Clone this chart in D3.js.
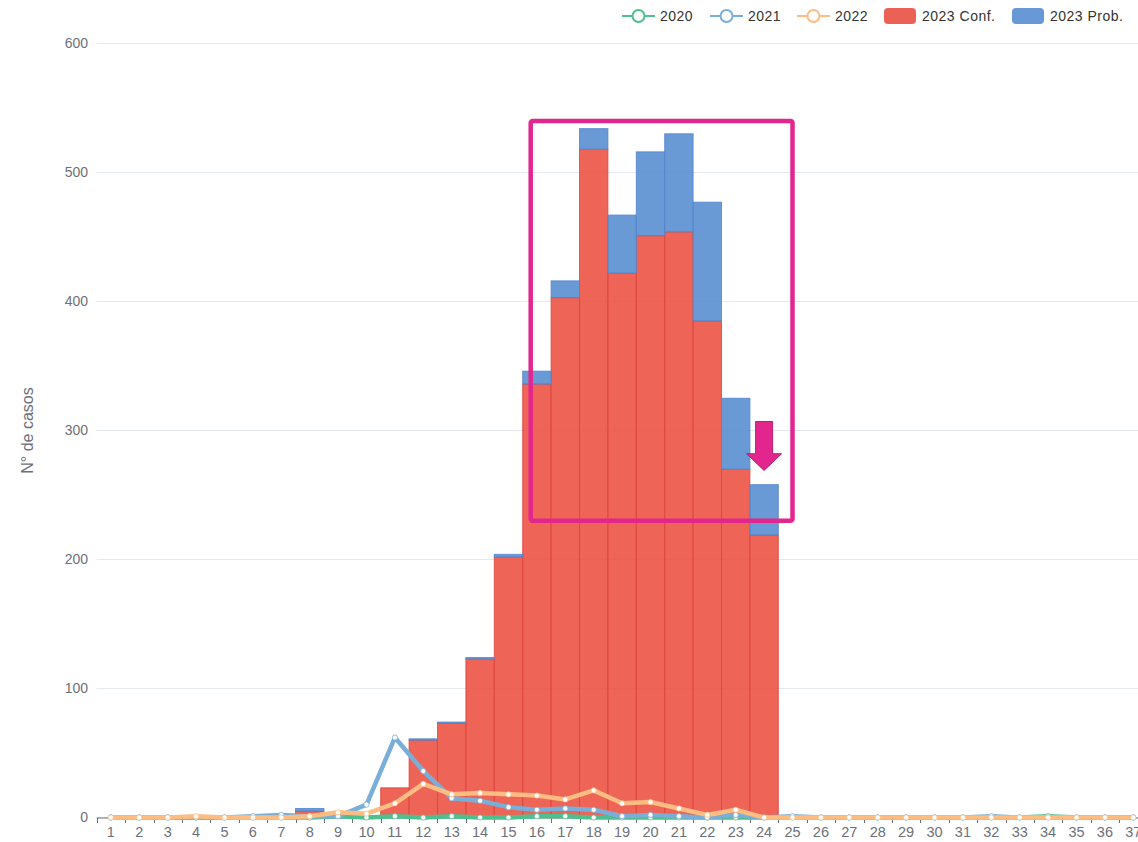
<!DOCTYPE html>
<html>
<head>
<meta charset="utf-8">
<script src="https://cdn.jsdelivr.net/npm/d3@7"></script>
<style>
  body { margin: 0; background: #fff; overflow: hidden; }
  text { font-family: "Liberation Sans", Arial, sans-serif; }
</style>
</head>
<body>
<svg id="chart"></svg>
<script>
var weeks = [1, 2, 3, 4, 5, 6, 7, 8, 9, 10, 11, 12, 13, 14, 15, 16, 17, 18, 19,
  20, 21, 22, 23, 24, 25, 26, 27, 28, 29, 30, 31, 32, 33, 34, 35, 36, 37];

// 2023 stacked bars (weeks 1-24)
var conf2023 = [0, 0, 0, 0, 0, 0, 0, 5, 0, 0, 23, 60, 73, 123, 202, 336, 403, 518, 422,
  451, 454, 385, 270, 219];
var prob2023 = [0, 0, 0, 0, 0, 0, 0, 2, 0, 0, 0, 1, 1, 1, 2, 10, 13, 16, 45,
  65, 76, 92, 55, 39];

// previous years, lines
var cases2020 = [0, 0, 0, 0, 0, 0, 0, 0, 1, 0, 1, 0, 1, 0, 0, 1, 1, 0, 0,
  0, 0, 0, 0, 0, 0, 0, 0, 0, 0, 0, 0, 0, 0, 1, 0, 0, 0];
var cases2021 = [0, 0, 0, 0, 0, 1, 2, 1, 1, 10, 62, 36, 15, 13, 8, 6, 7, 6, 1,
  2, 1, 0, 2, 0, 1, 0, 0, 0, 0, 0, 0, 1, 0, 0, 0, 0, 0];
var cases2022 = [0, 0, 0, 1, 0, 0, 0, 1, 4, 3, 11, 26, 18, 19, 18, 17, 14, 21, 11,
  12, 7, 2, 6, 0, 0, 0, 0, 0, 0, 0, 0, 0, 0, 0, 0, 0, 0];

var yTicks = [0, 100, 200, 300, 400, 500, 600];
var legendNames = ["2020", "2021", "2022", "2023 Conf.", "2023 Prob."];

var width = 1138, height = 842;
var margin = { top: 43.5, left: 96.7, bottom: 24.5 };
var band = 28.4;

var svg = d3.select("#chart")
  .attr("width", width)
  .attr("height", height);

var xScale = d3.scaleBand()
  .domain(weeks)
  .range([margin.left, margin.left + band * weeks.length])
  .padding(0);

var yScale = d3.scaleLinear()
  .domain([0, 600])
  .range([height - margin.bottom, margin.top]);

var gray = "#6e7079";

// grid + y labels
svg.append("g")
  .selectAll("line")
  .data(yTicks)
  .enter().append("line")
  .attr("x1", margin.left)
  .attr("x2", width)
  .attr("y1", function(d) { return yScale(d); })
  .attr("y2", function(d) { return yScale(d); })
  .style("stroke", "#e4e8f1")
  .style("stroke-width", 1);

svg.append("g")
  .selectAll("text")
  .data(yTicks)
  .enter().append("text")
  .attr("x", 88)
  .attr("y", function(d) { return yScale(d); })
  .attr("dy", "0.35em")
  .style("text-anchor", "end")
  .style("font-size", "14px")
  .style("fill", gray)
  .text(function(d) { return d; });

svg.append("text")
  .attr("transform", "translate(33," + yScale(300) + ") rotate(-90)")
  .style("text-anchor", "middle")
  .style("font-size", "16px")
  .style("fill", gray)
  .text("N° de casos");

// bars
var barData = conf2023.map(function(c, i) {
  return { week: weeks[i], conf: c, prob: prob2023[i] };
});

var bars = svg.append("g");

bars.selectAll(".conf")
  .data(barData.filter(function(d) { return d.conf > 0; }))
  .enter().append("rect")
  .attr("class", "conf")
  .attr("x", function(d) { return xScale(d.week); })
  .attr("width", xScale.bandwidth())
  .attr("y", function(d) { return yScale(d.conf); })
  .attr("height", function(d) { return yScale(0) - yScale(d.conf); })
  .style("fill", "rgb(236,83,69)")
  .style("fill-opacity", 0.9)
  .style("stroke", "rgb(222,66,56)")
  .style("stroke-opacity", 0.8)
  .style("stroke-width", 1);

bars.selectAll(".prob")
  .data(barData.filter(function(d) { return d.prob > 0; }))
  .enter().append("rect")
  .attr("class", "prob")
  .attr("x", function(d) { return xScale(d.week); })
  .attr("width", xScale.bandwidth())
  .attr("y", function(d) { return yScale(d.conf + d.prob); })
  .attr("height", function(d) { return yScale(d.conf) - yScale(d.conf + d.prob); })
  .style("fill", "rgb(89,143,209)")
  .style("fill-opacity", 0.9)
  .style("stroke", "rgb(80,130,205)")
  .style("stroke-opacity", 0.8)
  .style("stroke-width", 1);

// x axis
var x0 = margin.left, y0 = yScale(0) + 0.5;
svg.append("line")
  .attr("x1", x0)
  .attr("x2", width)
  .attr("y1", y0)
  .attr("y2", y0)
  .style("stroke", gray)
  .style("stroke-width", 1);

svg.append("g")
  .selectAll("line")
  .data(weeks)
  .enter().append("line")
  .attr("x1", function(d) { return Math.round(xScale(d)) + 0.5; })
  .attr("x2", function(d) { return Math.round(xScale(d)) + 0.5; })
  .attr("y1", y0)
  .attr("y2", y0 + 5)
  .style("stroke", gray);

svg.append("g")
  .selectAll("text")
  .data(weeks)
  .enter().append("text")
  .attr("x", function(d) { return xScale(d) + xScale.bandwidth() / 2; })
  .attr("y", y0 + 19)
  .style("text-anchor", "middle")
  .style("font-size", "14.5px")
  .style("fill", gray)
  .text(function(d) { return d; });

// lines
var series = [
  { name: "2020", values: cases2020, color: "#4fbf8e" },
  { name: "2021", values: cases2021, color: "#78aed8" },
  { name: "2022", values: cases2022, color: "#fdbd82" }
];

var line = d3.line()
  .x(function(d, i) { return xScale(weeks[i]) + xScale.bandwidth() / 2; })
  .y(function(d) { return yScale(d); });

series.forEach(function(s) {
  var g = svg.append("g");
  g.append("path")
    .datum(s.values)
    .attr("d", line)
    .style("fill", "none")
    .style("stroke", s.color)
    .style("stroke-width", 4.5)
    .style("stroke-linejoin", "round");
  g.selectAll("circle")
    .data(s.values)
    .enter().append("circle")
    .attr("cx", function(d, i) { return xScale(weeks[i]) + xScale.bandwidth() / 2; })
    .attr("cy", function(d) { return yScale(d); })
    .attr("r", 2.6)
    .style("fill", "#fff")
    .style("stroke", s.color)
    .style("stroke-width", 0.8);
});

// annotation box + arrow
var pink = "#e3268d";
var bx1 = xScale(16) + 8, bx2 = xScale(25) + xScale.bandwidth() / 2;
svg.append("rect")
  .attr("x", bx1)
  .attr("y", yScale(540))
  .attr("width", bx2 - bx1)
  .attr("height", yScale(230) - yScale(540))
  .attr("rx", 2)
  .style("fill", "none")
  .style("stroke", pink)
  .style("stroke-width", 4.5);

var ax = xScale(24) + xScale.bandwidth() / 2;
var aTop = yScale(307), aHead = yScale(282), aTip = yScale(269);
svg.append("path")
  .attr("d", "M" + (ax - 8.5) + "," + aTop + "H" + (ax + 8.5) + "V" + aHead +
    "H" + (ax + 17.5) + "L" + ax + "," + aTip + "L" + (ax - 17.5) + "," + aHead +
    "H" + (ax - 8.5) + "Z")
  .style("fill", pink)
  .style("stroke", "#b81f70")
  .style("stroke-width", 1);

// legend
var legendX = [622, 710, 797, 884, 1012];
var legend = svg.append("g");
legendNames.forEach(function(name, i) {
  var lx = legendX[i], ly = 16;
  if (i < 3) {
    legend.append("line")
      .attr("x1", lx).attr("x2", lx + 33)
      .attr("y1", ly).attr("y2", ly)
      .style("stroke", series[i].color)
      .style("stroke-width", 2);
    legend.append("circle")
      .attr("cx", lx + 16.5).attr("cy", ly).attr("r", 6)
      .style("fill", "#fff")
      .style("stroke", series[i].color)
      .style("stroke-width", 2);
  } else {
    legend.append("rect")
      .attr("x", lx).attr("y", ly - 8)
      .attr("width", 32).attr("height", 16)
      .attr("rx", 4)
      .style("fill", i === 3 ? "rgb(236,97,85)" : "rgb(104,152,213)");
  }
  legend.append("text")
    .attr("x", lx + 38)
    .attr("y", ly)
    .attr("dy", "0.35em")
    .style("font-size", "14px")
    .style("letter-spacing", "0.5px")
    .style("fill", "#333")
    .text(name);
});
</script>
</body>
</html>
